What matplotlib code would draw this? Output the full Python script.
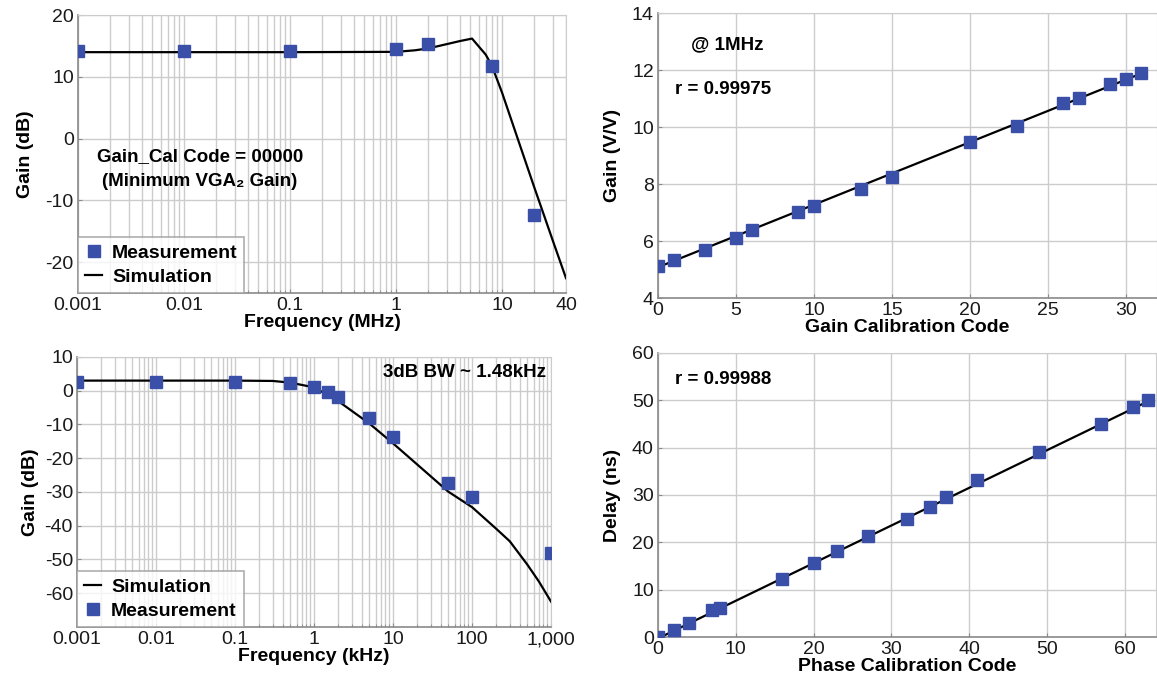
import numpy as np
import matplotlib
matplotlib.use("Agg")
import matplotlib.pyplot as plt
from matplotlib.ticker import LogLocator, NullFormatter

plt.rcParams['font.family'] = ['Liberation Sans', 'DejaVu Sans']
plt.rcParams['axes.unicode_minus'] = False

MARKER_COLOR = "#3a50a8"
GRID_COLOR = "#cccccc"
SPINE_COLOR = "#8a8a8a"

# top left: VGA gain vs frequency (MHz)
vga_meas_f = [0.001, 0.01, 0.1, 1, 2, 8, 20]
vga_meas_g = [14.2, 14.2, 14.2, 14.45, 15.4, 11.8, -12.4]
vga_sim_f = [0.001, 0.01, 0.1, 1, 1.5, 2, 3, 4, 5.2, 7, 8, 10, 15, 20, 30, 40]
vga_sim_g = [14.0, 14.0, 14.0, 14.05, 14.3, 14.6, 15.3, 15.8, 16.2, 13.6, 11.8, 7.4, -1.5, -7.8, -16.5, -22.6]

# top right: gain vs gain calibration code
gain_code = [0, 1, 3, 5, 6, 9, 10, 13, 15, 20, 23, 26, 27, 29, 30, 31]
gain_vv = [5.13, 5.33, 5.7, 6.12, 6.38, 7.02, 7.22, 7.82, 8.23, 9.49, 10.05, 10.84, 11.01, 11.5, 11.69, 11.91]
gain_fit_x = [0, 31]
gain_fit_y = [5.08, 11.88]

# bottom left: LPF gain vs frequency (kHz)
lpf_meas_f = [0.001, 0.01, 0.1, 0.5, 1, 1.5, 2, 5, 10, 50, 100, 1000]
lpf_meas_g = [2.7, 2.7, 2.7, 2.2, 1.0, -0.3, -1.8, -8.0, -13.8, -27.4, -31.4, -48.2]
lpf_sim_f = [0.001, 0.01, 0.1, 0.3, 0.5, 1, 2, 5, 10, 50, 100, 200, 300, 500, 700, 1000]
lpf_sim_g = [3.0, 3.0, 3.0, 2.9, 2.4, 1.0, -3.0, -9.7, -15.6, -29.9, -34.5, -40.8, -44.6, -51.5, -56.5, -62.5]

# bottom right: delay vs phase calibration code
phase_code = [0, 2, 4, 7, 8, 16, 20, 23, 27, 32, 35, 37, 41, 49, 57, 61, 63]
delay_ns = [0.0, 1.55, 3.04, 5.65, 6.14, 12.15, 15.7, 18.2, 21.4, 24.9, 27.5, 29.5, 33.2, 39.0, 45.1, 48.6, 50.0]
delay_fit_x = [0, 63]
delay_fit_y = [-0.3, 49.8]


def style_axes(ax):
    ax.set_axisbelow(True)
    for side in ['left', 'bottom']:
        ax.spines[side].set_color(SPINE_COLOR)
        ax.spines[side].set_linewidth(1.2)
    for side in ['top', 'right']:
        ax.spines[side].set_color(GRID_COLOR)
    ax.tick_params(which='both', direction='in', colors=SPINE_COLOR, labelcolor='#1a1a1a',
                   labelsize=14, length=3, pad=3)
    ax.tick_params(which='minor', length=2)


def style_legend(leg):
    frame = leg.get_frame()
    frame.set_edgecolor('#9a9a9a')
    frame.set_linewidth(1.2)
    frame.set_boxstyle('square', pad=0)
    for t in leg.get_texts():
        t.set_fontweight('bold')


fig = plt.figure(figsize=(11.57, 6.81), dpi=100)

# ---- top left
ax1 = fig.add_axes([0.0674, 0.5698, 0.4218, 0.408])
style_axes(ax1)
ax1.set_xscale('log')
ax1.plot(vga_meas_f, vga_meas_g, 's', color=MARKER_COLOR, ms=9, label='Measurement', zorder=3)
ax1.plot(vga_sim_f, vga_sim_g, '-', color='black', lw=1.6, label='Simulation', zorder=2)
ax1.set_xlim(0.001, 40)
ax1.set_ylim(-25, 20)
ax1.set_xticks([0.001, 0.01, 0.1, 1, 10, 40])
ax1.set_xticklabels(['0.001', '0.01', '0.1', '1', '10', '40'])
ax1.xaxis.set_minor_locator(LogLocator(base=10, subs=np.arange(2, 10)))
ax1.xaxis.set_minor_formatter(NullFormatter())
ax1.set_yticks([-20, -10, 0, 10, 20])
ax1.grid(True, which='both', axis='x', color=GRID_COLOR, lw=1)
ax1.grid(True, which='major', axis='y', color=GRID_COLOR, lw=1)
ax1.set_xlabel('Frequency (MHz)', fontsize=14, fontweight='bold', labelpad=0)
ax1.set_ylabel('Gain (dB)', fontsize=14, fontweight='bold', labelpad=8)
ax1.text(0.25, 0.49, 'Gain_Cal Code = 00000', transform=ax1.transAxes, ha='center',
         va='center', fontsize=13.5, fontweight='bold')
ax1.text(0.25, 0.40, '(Minimum VGA\u2082 Gain)', transform=ax1.transAxes, ha='center',
         va='center', fontsize=13.5, fontweight='bold')
leg1 = ax1.legend(loc='lower left', borderaxespad=0, fontsize=14, handlelength=0.9,
                  handletextpad=0.5, borderpad=0.35, labelspacing=0.35, fancybox=False)
style_legend(leg1)

# ---- top right
ax2 = fig.add_axes([0.5687, 0.5624, 0.4313, 0.4185])
style_axes(ax2)
ax2.plot(gain_fit_x, gain_fit_y, '-', color='black', lw=1.6, zorder=2)
ax2.plot(gain_code, gain_vv, 's', color=MARKER_COLOR, ms=9, zorder=3)
ax2.set_xlim(0, 32)
ax2.set_ylim(4, 14)
ax2.set_xticks([0, 5, 10, 15, 20, 25, 30])
ax2.set_yticks([4, 6, 8, 10, 12, 14])
ax2.grid(True, color=GRID_COLOR, lw=1)
ax2.set_xlabel('Gain Calibration Code', fontsize=14, fontweight='bold', labelpad=0)
ax2.set_ylabel('Gain (V/V)', fontsize=14, fontweight='bold', labelpad=8)
ax2.text(0.066, 0.888, '@ 1MHz', transform=ax2.transAxes, ha='left', va='center',
         fontsize=13.5, fontweight='bold')
ax2.text(0.034, 0.73, 'r = 0.99975', transform=ax2.transAxes, ha='left', va='center',
         fontsize=13.5, fontweight='bold')

# ---- bottom left
ax3 = fig.add_axes([0.0666, 0.0793, 0.4097, 0.3965])
style_axes(ax3)
ax3.set_xscale('log')
ax3.plot(lpf_sim_f, lpf_sim_g, '-', color='black', lw=1.6, label='Simulation', zorder=2)
ax3.plot(lpf_meas_f, lpf_meas_g, 's', color=MARKER_COLOR, ms=9, label='Measurement', zorder=3)
ax3.set_xlim(0.001, 1000)
ax3.set_ylim(-70, 10)
ax3.set_xticks([0.001, 0.01, 0.1, 1, 10, 100, 1000])
ax3.set_xticklabels(['0.001', '0.01', '0.1', '1', '10', '100', '1,000'])
ax3.xaxis.set_minor_locator(LogLocator(base=10, subs=np.arange(2, 10)))
ax3.xaxis.set_minor_formatter(NullFormatter())
ax3.set_yticks([-60, -50, -40, -30, -20, -10, 0, 10])
ax3.grid(True, which='both', axis='x', color=GRID_COLOR, lw=1)
ax3.grid(True, which='major', axis='y', color=GRID_COLOR, lw=1)
ax3.set_xlabel('Frequency (kHz)', fontsize=14, fontweight='bold', labelpad=0)
ax3.set_ylabel('Gain (dB)', fontsize=14, fontweight='bold', labelpad=4)
ax3.text(0.989, 0.944, '3dB BW ~ 1.48kHz', transform=ax3.transAxes, ha='right',
         va='center', fontsize=13.5, fontweight='bold')
leg3 = ax3.legend(loc='lower left', borderaxespad=0, fontsize=14, handlelength=0.9,
                  handletextpad=0.5, borderpad=0.35, labelspacing=0.35, fancybox=False)
style_legend(leg3)

# ---- bottom right
ax4 = fig.add_axes([0.5687, 0.0646, 0.4304, 0.4171])
style_axes(ax4)
ax4.plot(delay_fit_x, delay_fit_y, '-', color='black', lw=1.6, zorder=2)
ax4.plot(phase_code, delay_ns, 's', color=MARKER_COLOR, ms=9, zorder=3)
ax4.set_xlim(0, 64)
ax4.set_ylim(0, 60)
ax4.set_xticks([0, 10, 20, 30, 40, 50, 60])
ax4.set_yticks([0, 10, 20, 30, 40, 50, 60])
ax4.grid(True, color=GRID_COLOR, lw=1)
ax4.set_xlabel('Phase Calibration Code', fontsize=14, fontweight='bold', labelpad=0)
ax4.set_ylabel('Delay (ns)', fontsize=14, fontweight='bold', labelpad=8)
ax4.text(0.034, 0.907, 'r = 0.99988', transform=ax4.transAxes, ha='left', va='center',
         fontsize=13.5, fontweight='bold')

fig.savefig('out.png', dpi=100)
